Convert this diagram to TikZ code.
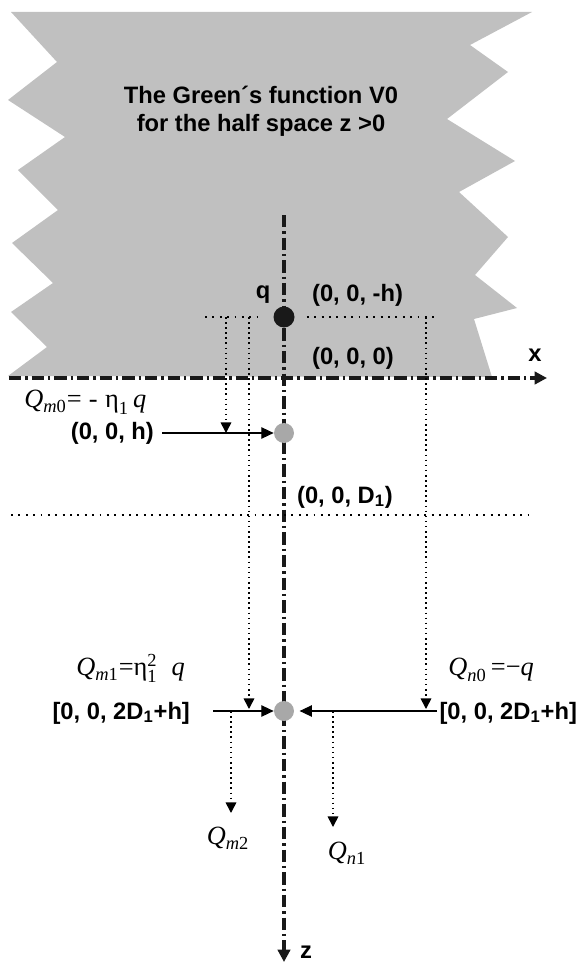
\documentclass[tikz,border=0pt]{standalone}
\usepackage{amsmath}
\usepackage{fontspec}
\setmainfont{Liberation Sans}
\newfontfamily\tms{Liberation Serif}
\usepackage{xcolor}
\usetikzlibrary{arrows.meta,positioning}
\definecolor{halfspace}{RGB}{192,192,192}
\definecolor{imggray}{RGB}{168,168,168}

\begin{document}
\begin{tikzpicture}[
  x=0.02cm, y=-0.02cm,
  axis/.style={line width=2pt, black!90,
    dash pattern=on 7pt off 2.3pt on 1.3pt off 2.3pt,
    -{Triangle[length=7pt,width=7pt]}},
  hdots/.style={line width=1.1pt, dash pattern=on 1.1pt off 3.1pt},
  vdots/.style={line width=0.9pt, dash pattern=on 0.9pt off 2pt},
  droptip/.style={-{Triangle[length=6pt,width=6pt]}},
  feed/.style={line width=0.6pt, -{Triangle[length=7pt,width=6.5pt]}},
  charge/.style={circle, fill=black!90, minimum size=0.42cm, inner sep=0pt},
  image/.style={circle, fill=imggray, minimum size=0.4cm, inner sep=0pt},
  lbl/.style={font=\fontsize{13.5}{16}\selectfont\bfseries, inner sep=1pt},
  mlbl/.style={font=\fontsize{15}{18}\selectfont\tms, inner sep=0pt},
]
  \useasboundingbox (0,0) rectangle (579,963);

  % Half space z<0 (gray, broken edges)
  \fill[halfspace] (11,12) -- (57,62) -- (8,100) -- (65,137) -- (18,170)
    -- (58,210) -- (12,243) -- (53,283) -- (11,312) -- (47,347) -- (8,376)
    -- (492,377) -- (474,319) -- (517,308) -- (475,275) -- (508,237)
    -- (459,192) -- (515,161) -- (447,119) -- (508,72) -- (470,45)
    -- (532,12) -- cycle;
  \node[lbl, align=center] (title) at (261,111)
    {The Green´s function V0\\for the half space z >0};

  % Axes
  \draw[axis] (9,378) -- (547,378);
  \draw[axis] (284,215) -- (284,962);
  \node[lbl] (xlab) at (535,355) {x};
  \node[lbl] (zlab) at (306,952) {z};

  % Charge q
  \node[charge] (q) at (284,317) {};
  \node[lbl] (qlab) at (263,295) {q};
  \node[lbl, anchor=west] (qpos) at (310,295) {(0, 0, -h)};
  \node[lbl, anchor=west] (orig) at (310,358) {(0, 0, 0)};
  \coordinate (hl) at (205,317);
  \coordinate (hr) at (438,317);
  \draw[hdots, shorten >=0.32cm] (hl) -- (q);
  \draw[hdots, shorten <=0.24cm] (q) -- (hr);

  % First image
  \node[image] (m0) at (284,433) {};
  \node[mlbl, anchor=west] (qm0) at (24,402)
    {$\textit{Q}_{\textit{m}\text{0}}\text{=\;-\;η}_{\text{1}}\,\textit{q}$};
  \node[lbl, anchor=east] (m0pos) at (156,433) {(0, 0, h)};
  \coordinate (m0in) at (162,433);
  \draw[feed] (m0in) -- (m0);
  \coordinate (a0) at (226,317);
  \coordinate (a0end) at (226,433);
  \draw[vdots, droptip] (a0) -- (a0end);

  % Interface z=D1
  \node[lbl, anchor=west] (dpos) at (295,497) {(0, 0, D\textsubscript{1})};
  \coordinate (il) at (11,515);
  \coordinate (ir) at (528,515);
  \draw[hdots] (il) -- (ir);

  % Second images
  \node[image] (m1) at (284,711) {};
  \node[mlbl, anchor=west] (qm1) at (76,668)
    {$\textit{Q}_{\textit{m}\text{1}}\text{=η}_{\text{1}}^{\text{2}}\;\;\textit{q}$};
  \node[mlbl, anchor=west] (qn0) at (448,670)
    {$\textit{Q}_{\textit{n}\text{0}}\,\text{=−}\textit{q}$};
  \node[lbl, anchor=east] (m1pos) at (192,713) {[0, 0, 2D\textsubscript{1}+h]};
  \node[lbl, anchor=east] (n0pos) at (579,713) {[0, 0, 2D\textsubscript{1}+h]};
  \coordinate (m1in) at (213,711);
  \coordinate (n0in) at (437,711);
  \draw[feed] (m1in) -- (m1);
  \draw[feed, shorten >=3pt] (n0in) -- (m1);
  \coordinate (a1) at (249,317);
  \coordinate (a1end) at (249,709);
  \coordinate (a2) at (426,317);
  \coordinate (a2end) at (426,709);
  \draw[vdots, droptip] (a1) -- (a1end);
  \draw[vdots, droptip] (a2) -- (a2end);

  % Next images
  \node[mlbl] (qm2) at (228,838) {$\textit{Q}_{\textit{m}\text{2}}$};
  \node[mlbl] (qn1) at (347,853) {$\textit{Q}_{\textit{n}\text{1}}$};
  \coordinate (b1) at (231,711);
  \coordinate (b1end) at (231,813);
  \coordinate (b2) at (333,711);
  \coordinate (b2end) at (333,827);
  \draw[vdots, droptip] (b1) -- (b1end);
  \draw[vdots, droptip] (b2) -- (b2end);
\end{tikzpicture}
\end{document}
